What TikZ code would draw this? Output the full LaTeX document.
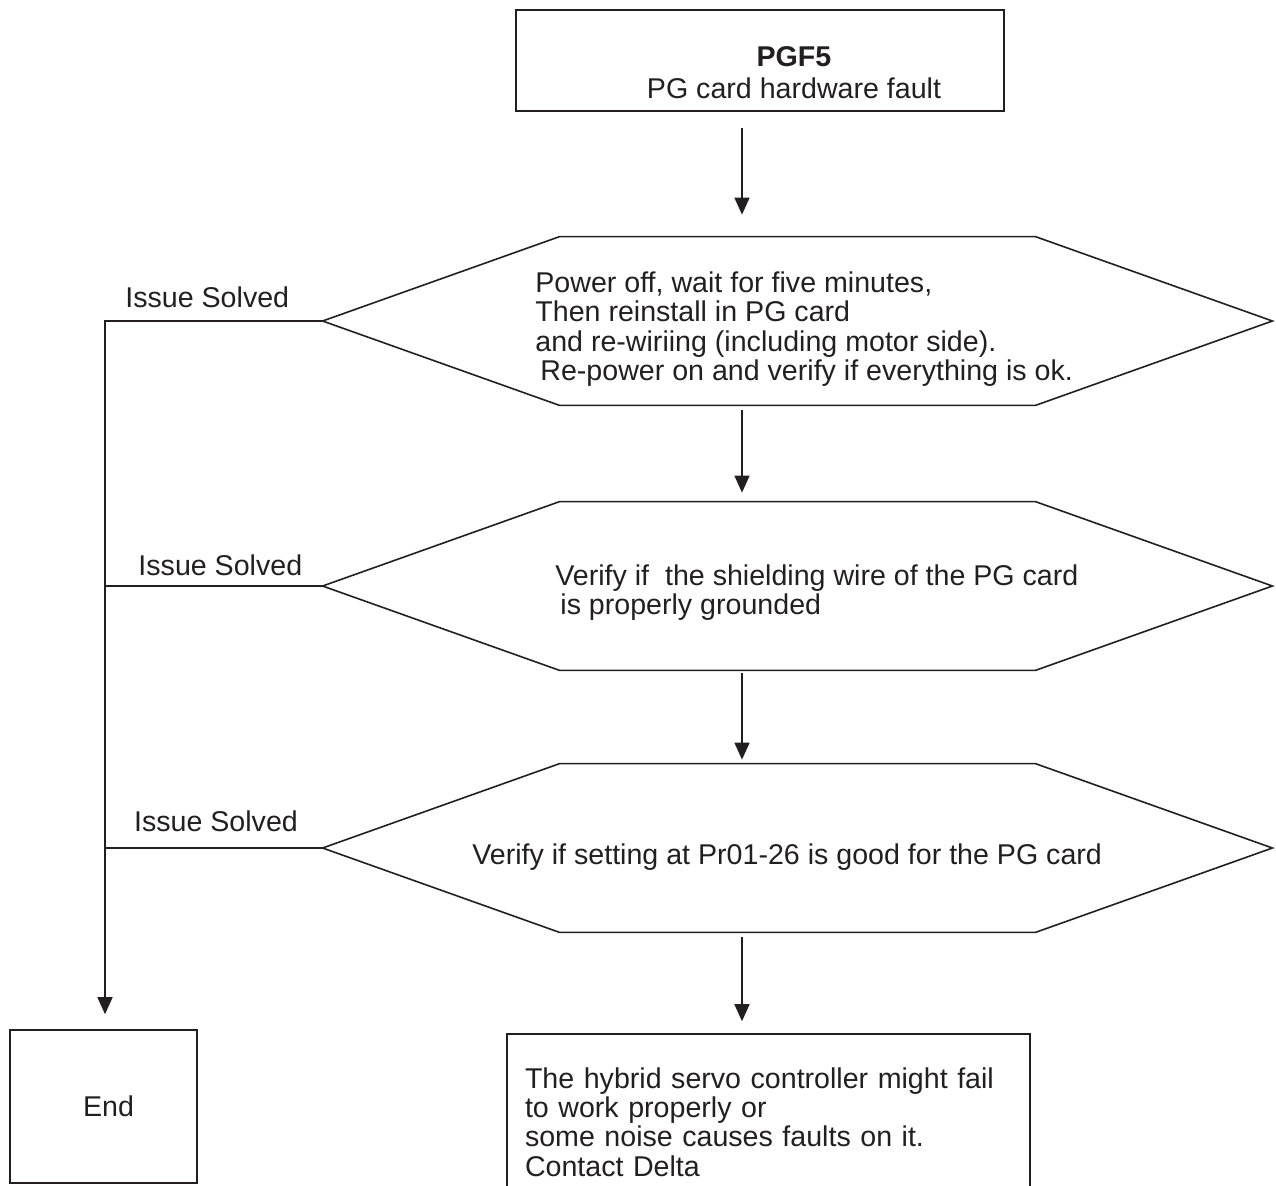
\documentclass[tikz,border=0pt]{standalone}
\usepackage{fontspec}
\setmainfont{Liberation Sans}
\usepackage{tikz}
\usetikzlibrary{arrows.meta,positioning,calc}
\definecolor{ink}{HTML}{231F20}

\begin{document}
\begin{tikzpicture}[
  x=0.5pt, y=-0.5pt,
  every node/.style={text=ink},
  frame/.style={draw=ink, line width=0.8pt, inner sep=0pt},
  hexcore/.style={minimum width=237.5pt, minimum height=84pt, inner sep=0pt},
  txt/.style={font=\fontsize{14.3}{14.65}\selectfont, align=left, inner sep=0pt},
  arr/.style={-{Triangle[length=8.5pt, width=7.5pt]}, line width=0.8pt, draw=ink},
  link/.style={line width=0.8pt, draw=ink}
]
  \useasboundingbox (0,0) rectangle (1276,1185);
  \clip (0,0) rectangle (1276,1185);

  % fault box
  \node[frame, minimum width=244pt, minimum height=50.5pt] (fault) at (760,60.5) {};
  \node[txt, align=center, font=\fontsize{14.3}{16}\selectfont] (faulttxt) at (794,73) {\textbf{PGF5}\\PG card hardware fault};

  % checks
  \node[hexcore] (chk1) at (797.5,321) {};
  \node[hexcore] (chk2) at (797.5,586) {};
  \node[hexcore] (chk3) at (797.5,848) {};
  \foreach \n in {chk1,chk2,chk3}{
    \draw[link] (\n.north west) -- (\n.north east) -- ([xshift=118.5pt]\n.east)
      -- (\n.south east) -- (\n.south west) -- ([xshift=-118.5pt]\n.west) -- cycle;
    \coordinate (\n-tip) at ([xshift=-118.5pt]\n.west);
  }
  \node[txt, anchor=west] (chk1txt) at (535,329) {Power off, wait for five minutes,\\Then reinstall in PG card\\and re-wiriing (including motor side).\\\hspace*{2.5pt}Re-power on and verify if everything is ok.};
  \node[txt, anchor=west] (chk2txt) at (555,592.5) {Verify if~ the shielding wire of the PG card\\\hspace*{2.5pt}is properly grounded};
  \node[txt, anchor=west] (chk3txt) at (472,857) {Verify if setting at Pr01-26 is good for the PG card};

  % ends
  \node[frame, txt, minimum width=93.5pt, minimum height=76.5pt] (done) at (103.5,1106.5) {\hspace*{5pt}End};
  \node[frame, txt, text width=243.5pt, inner xsep=9pt, minimum height=88pt] (advice) at (768.5,1122) {The hybrid servo controller might fail\\to work properly or\\some noise causes faults on it.\\Contact Delta};

  % flow
  \coordinate (spine) at (742,0);
  \draw[arr, shorten <=8pt, shorten >=11pt] (fault.south -| spine) -- (chk1.north -| spine);
  \draw[arr, shorten <=2.5pt, shorten >=4.5pt] (chk1.south -| spine) -- (chk2.north -| spine);
  \draw[arr, shorten <=1.5pt, shorten >=2pt] (chk2.south -| spine) -- (chk3.north -| spine);
  \draw[arr, shorten <=2.5pt, shorten >=6pt] (chk3.south -| spine) -- (advice.north -| spine);

  % solved branch
  \coordinate (bend) at (105,321);
  \draw[arr, shorten >=7.5pt] (chk1-tip) -- node[txt, above=6.4pt, pos=0.53] (solved1) {Issue Solved} (bend) -- (done.north -| bend);
  \draw[link] (chk2-tip) -- node[txt, above=4.9pt, pos=0.47] (solved2) {Issue Solved} (chk2-tip -| bend);
  \draw[link] (chk3-tip) -- node[txt, above=7.9pt, pos=0.49] (solved3) {Issue Solved} (chk3-tip -| bend);
\end{tikzpicture}
\end{document}
